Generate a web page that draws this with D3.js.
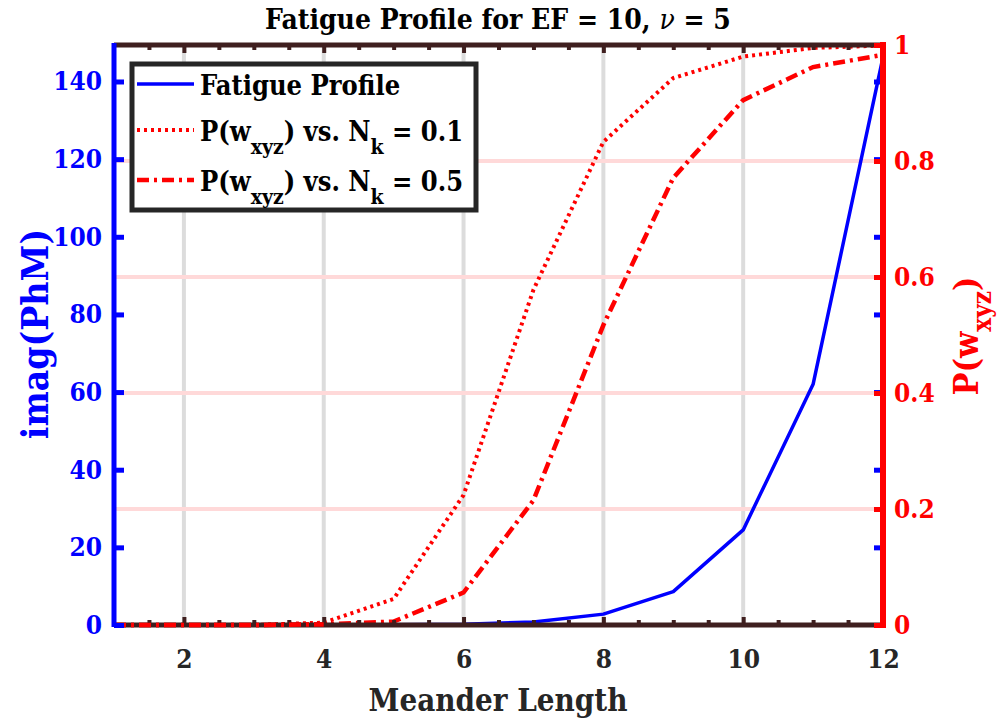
<!DOCTYPE html>
<html>
<head>
<meta charset="utf-8">
<script src="https://cdn.jsdelivr.net/npm/d3@7"></script>
<style>
  html, body { margin: 0; padding: 0; background: #fff; }
</style>
</head>
<body>
<svg id="chart" width="1005" height="723"></svg>
<script>
// Fatigue profile, two y axes
const meanderLength = [1, 2, 3, 4, 5, 6, 7, 8, 9, 10, 11, 12];
const fatigueProfile = [0, 0, 0, 0.02, 0.05, 0.2, 0.8, 2.8, 8.6, 24.5, 62, 146.3];
const probNk01 = [0, 0, 0.0002, 0.004, 0.045, 0.224, 0.578, 0.833, 0.943, 0.98, 0.995, 0.999];
const probNk05 = [0, 0, 0, 0.001, 0.006, 0.056, 0.215, 0.517, 0.771, 0.905, 0.962, 0.983];

const xTicks = [2, 4, 6, 8, 10, 12];
const leftTicks = [0, 20, 40, 60, 80, 100, 120, 140];
const rightTicks = [0, 0.2, 0.4, 0.6, 0.8, 1];

const plot = { left: 114, right: 883, top: 45, bottom: 625 };
const axisDark = '#3f1f1f';
const blue = '#0000ff';
const red = '#ff0000';
const serif = "'DejaVu Serif Condensed', 'DejaVu Serif', serif";
const tickFont = '26px';

const svg = d3.select('#chart')
  .style('font-family', serif)
  .style('font-stretch', 'condensed')
  .attr('font-weight', 'bold');

const x = d3.scaleLinear().domain([1, 12]).range([plot.left, plot.right]);
const yL = d3.scaleLinear().domain([0, 149.4]).range([plot.bottom, plot.top]);
const yR = d3.scaleLinear().domain([0, 1]).range([plot.bottom, plot.top]);

const minorX = d3.range(1.5, 12, 0.5).filter(v => !xTicks.includes(v));

// grid
svg.append('g').selectAll('line')
  .data(xTicks.slice(0, -1))
  .enter().append('line')
  .attr('x1', d => x(d)).attr('x2', d => x(d))
  .attr('y1', plot.top).attr('y2', plot.bottom)
  .attr('stroke', '#dcdcdc').attr('stroke-width', 4);

svg.append('g').selectAll('line')
  .data(rightTicks.slice(1, -1))
  .enter().append('line')
  .attr('x1', plot.left).attr('x2', plot.right)
  .attr('y1', d => yR(d)).attr('y2', d => yR(d))
  .attr('stroke', '#ffd9d9').attr('stroke-width', 4);

// series
const lineL = d3.line().x((d, i) => x(meanderLength[i])).y(d => yL(d));
const lineR = d3.line().x((d, i) => x(meanderLength[i])).y(d => yR(d));

svg.append('path').datum(probNk01)
  .attr('d', lineR).attr('fill', 'none')
  .attr('stroke', red).attr('stroke-width', 4)
  .attr('stroke-dasharray', '3,4');

svg.append('path').datum(probNk05)
  .attr('d', lineR).attr('fill', 'none')
  .attr('stroke', red).attr('stroke-width', 4.5)
  .attr('stroke-dasharray', '12,5,3,5');

svg.append('path').datum(fatigueProfile)
  .attr('d', lineL).attr('fill', 'none')
  .attr('stroke', blue).attr('stroke-width', 3.5)
  .attr('stroke-linejoin', 'round');

// x axes (bottom + top)
function styleTicks(g, color, width) {
  g.attr('font-family', null);
  g.select('.domain').remove();
  g.selectAll('.tick line').attr('stroke', color).attr('stroke-width', width);
}

svg.append('g')
  .attr('transform', `translate(0,${plot.bottom})`)
  .call(d3.axisBottom(x).tickValues(minorX).tickSize(-5).tickFormat(''))
  .call(g => styleTicks(g, axisDark, 4));
svg.append('g')
  .attr('transform', `translate(0,${plot.top})`)
  .call(d3.axisTop(x).tickValues(minorX).tickSize(-5).tickFormat(''))
  .call(g => styleTicks(g, axisDark, 4));
svg.append('g')
  .attr('transform', `translate(0,${plot.top})`)
  .call(d3.axisTop(x).tickValues(xTicks).tickSize(-8).tickFormat(''))
  .call(g => styleTicks(g, axisDark, 4));

const xAxis = svg.append('g')
  .attr('transform', `translate(0,${plot.bottom})`)
  .call(d3.axisBottom(x).tickValues(xTicks).tickSizeInner(-8).tickSizeOuter(0).tickPadding(25))
  .call(g => styleTicks(g, axisDark, 4));
xAxis.selectAll('.tick text')
  .attr('fill', '#262626').style('font-size', tickFont);

svg.append('line')
  .attr('x1', plot.left).attr('x2', plot.right)
  .attr('y1', plot.bottom).attr('y2', plot.bottom)
  .attr('stroke', axisDark).attr('stroke-width', 5);
svg.append('line')
  .attr('x1', plot.left).attr('x2', plot.right)
  .attr('y1', plot.top).attr('y2', plot.top)
  .attr('stroke', axisDark).attr('stroke-width', 5);

// redraw the zero part of the red curves over the bottom axis
svg.append('path').datum(probNk05.slice(0, 4))
  .attr('d', lineR).attr('fill', 'none')
  .attr('stroke', red).attr('stroke-width', 4.5)
  .attr('stroke-dasharray', '12,5,3,5');

// left y axis
const leftAxis = svg.append('g')
  .attr('transform', `translate(${plot.left},0)`)
  .call(d3.axisLeft(yL).tickValues(leftTicks).tickSizeInner(-10).tickSizeOuter(0).tickPadding(12));
leftAxis.attr('font-family', null).select('.domain').remove();
leftAxis.selectAll('.tick line').attr('stroke', blue).attr('stroke-width', 5);
leftAxis.selectAll('.tick text').attr('fill', blue).style('font-size', tickFont);
svg.append('line')
  .attr('x1', plot.left).attr('x2', plot.left)
  .attr('y1', plot.top - 2).attr('y2', plot.bottom + 2)
  .attr('stroke', blue).attr('stroke-width', 5);

// right y axis: blue ticks of left scale, red ticks + labels
svg.append('g')
  .attr('transform', `translate(${plot.right},0)`)
  .call(d3.axisRight(yL).tickValues(leftTicks).tickSize(-9).tickFormat(''))
  .call(g => styleTicks(g, blue, 5));

const rightAxis = svg.append('g')
  .attr('transform', `translate(${plot.right},0)`)
  .call(d3.axisRight(yR).tickValues(rightTicks).tickSizeInner(-9).tickSizeOuter(0).tickPadding(11)
    .tickFormat(d3.format('~g')));
rightAxis.attr('font-family', null).select('.domain').remove();
rightAxis.selectAll('.tick line').attr('stroke', red).attr('stroke-width', 5);
rightAxis.selectAll('.tick text').attr('fill', red).style('font-size', tickFont);
svg.append('line')
  .attr('x1', plot.right).attr('x2', plot.right)
  .attr('y1', plot.top - 3).attr('y2', plot.bottom + 3)
  .attr('stroke', red).attr('stroke-width', 6);

// title and axis labels
const title = svg.append('text')
  .attr('x', 498).attr('y', 29)
  .attr('text-anchor', 'middle')
  .style('font-size', '28px').attr('fill', '#000');
title.append('tspan').text('Fatigue Profile for EF = 10, ');
title.append('tspan').style('font-style', 'italic').style('font-weight', 'normal').text('ν');
title.append('tspan').text(' = 5');

svg.append('text')
  .attr('x', 498).attr('y', 711)
  .attr('text-anchor', 'middle')
  .style('font-size', '31px').attr('fill', '#262626')
  .text('Meander Length');

svg.append('text')
  .attr('transform', 'translate(48,334) rotate(-90)')
  .attr('text-anchor', 'middle')
  .style('font-size', '37px').attr('fill', blue)
  .text('imag(PhM)');

const rLabel = svg.append('text')
  .attr('transform', 'translate(978,336) rotate(-90)')
  .attr('text-anchor', 'middle')
  .style('font-size', '34px').attr('fill', red);
rLabel.append('tspan').text('P(w');
rLabel.append('tspan').attr('dy', 13).style('font-size', '26px').text('xyz');
rLabel.append('tspan').attr('dy', -13).text(')');

// legend
const legendItems = [
  { main: 'Fatigue Profile', color: blue, dash: null, width: 3.5 },
  { main: 'P(w', sub1: 'xyz', mid: ') vs. N', sub2: 'k', tail: ' = 0.1', color: red, dash: '3,4', width: 4 },
  { main: 'P(w', sub1: 'xyz', mid: ') vs. N', sub2: 'k', tail: ' = 0.5', color: red, dash: '12,5,3,5', width: 4.5 }
];
const legend = svg.append('g');
legend.append('rect')
  .attr('x', 132).attr('y', 64).attr('width', 344).attr('height', 146)
  .attr('fill', '#fff').attr('stroke', '#262626').attr('stroke-width', 5);

const rowY = [84, 130, 180];
legendItems.forEach((d, i) => {
  legend.append('line')
    .attr('x1', 137).attr('x2', 194)
    .attr('y1', rowY[i]).attr('y2', rowY[i])
    .attr('stroke', d.color).attr('stroke-width', d.width)
    .attr('stroke-dasharray', d.dash);
  const t = legend.append('text')
    .attr('x', 200).attr('y', rowY[i] + 11)
    .style('font-size', '27px').attr('fill', '#000');
  t.append('tspan').text(d.main);
  if (d.sub1) {
    t.append('tspan').attr('dy', 13).style('font-size', '21px').text(d.sub1);
    t.append('tspan').attr('dy', -13).text(d.mid);
    t.append('tspan').attr('dy', 13).style('font-size', '21px').text(d.sub2);
    t.append('tspan').attr('dy', -13).text(d.tail);
  }
});
</script>
</body>
</html>
